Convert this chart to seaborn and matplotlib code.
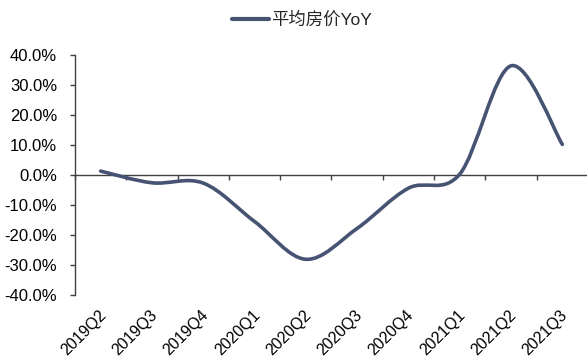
import numpy as np
import pandas as pd
import seaborn as sns
import matplotlib
matplotlib.use("Agg")
import matplotlib.pyplot as plt
from matplotlib.path import Path
from matplotlib.patches import PathPatch
from matplotlib.lines import Line2D
from matplotlib.transforms import ScaledTranslation

quarters = ["2019Q2", "2019Q3", "2019Q4", "2020Q1", "2020Q2",
            "2020Q3", "2020Q4", "2021Q1", "2021Q2", "2021Q3"]
yoy = [1.3, -2.6, -2.7, -15.5, -28.1, -17.8, -4.4, 0.3, 36.4, 10.2]
series_name = "平均房价YoY"
y_ticks = [-40, -30, -20, -10, 0, 10, 20, 30, 40]

color = "#465372"
lw = 2.6

sns.set_style("white")
plt.rcParams["font.family"] = ["Liberation Sans", "Noto Sans CJK SC", "DejaVu Sans"]

W, H = 587, 362
fig = plt.figure(figsize=(W / 100, H / 100), dpi=100)
ax = fig.add_axes([75 / W, 67 / H, 513 / W, 240 / H])

df = pd.DataFrame({"quarter": np.arange(len(quarters)), "yoy": yoy})
sns.lineplot(data=df, x="quarter", y="yoy", ax=ax, color=color, lw=lw)

# Smooth (Excel-like) rendering of the seaborn line via cubic Bezier segments
line = ax.lines[0]
pts = line.get_xydata()
line.set_visible(False)
n = len(pts)
verts = [tuple(pts[0])]
codes = [Path.MOVETO]
for i in range(n - 1):
    p0 = pts[max(i - 1, 0)]
    p1 = pts[i]
    p2 = pts[i + 1]
    p3 = pts[min(i + 2, n - 1)]
    c1 = p1 + (p2 - p0) / 6.0
    c2 = p2 - (p3 - p1) / 6.0
    verts += [tuple(c1), tuple(c2), tuple(p2)]
    codes += [Path.CURVE4] * 3
ax.add_patch(PathPatch(Path(verts, codes), fill=False, edgecolor=color, lw=lw,
                       capstyle="round", joinstyle="round", zorder=3))

ax.set_xlim(-0.5, len(quarters) - 0.5)
ax.set_ylim(-40, 40)
ax.set_yticks(y_ticks)
ax.set_yticklabels([f"{v:.1f}%" for v in y_ticks])
ax.set_xticks(np.arange(len(quarters)))
ax.set_xticklabels(quarters, rotation=45, ha="right", va="center",
                   rotation_mode="anchor")
ax.set_xlabel("")
ax.set_ylabel("")
for s in ["top", "right", "bottom"]:
    ax.spines[s].set_visible(False)
ax.spines["left"].set_color("#404040")
ax.spines["left"].set_linewidth(1.0)
ax.tick_params(axis="y", direction="out", length=3.5, width=1.0, color="#404040",
               labelsize=12, pad=9.5, labelcolor="black", left=True)
ax.tick_params(axis="x", length=0, labelsize=11.5, pad=13, labelcolor="black")
for lbl in ax.get_xticklabels():
    lbl.set_transform(lbl.get_transform() + ScaledTranslation(3 / 100, 0, fig.dpi_scale_trans))

# zero line with category boundary ticks
sec = ax.secondary_xaxis(0.5)
sec.set_alignment("bottom")
sec.set_xticks(np.arange(-0.5, len(quarters), 1.0))
sec.set_xticklabels([])
sec.tick_params(direction="out", length=3.5, width=1.0, color="#404040")
for s in sec.spines.values():
    s.set_color("#404040")
    s.set_linewidth(1.0)

handle = Line2D([0], [0], color=color, lw=3.0)
fig.legend([handle], [series_name], loc="center", bbox_to_anchor=(0.514, 1 - 20 / H),
           frameon=False, fontsize=12.5, handlelength=2.15, handletextpad=0.1)

fig.savefig("out.png", dpi=100)
